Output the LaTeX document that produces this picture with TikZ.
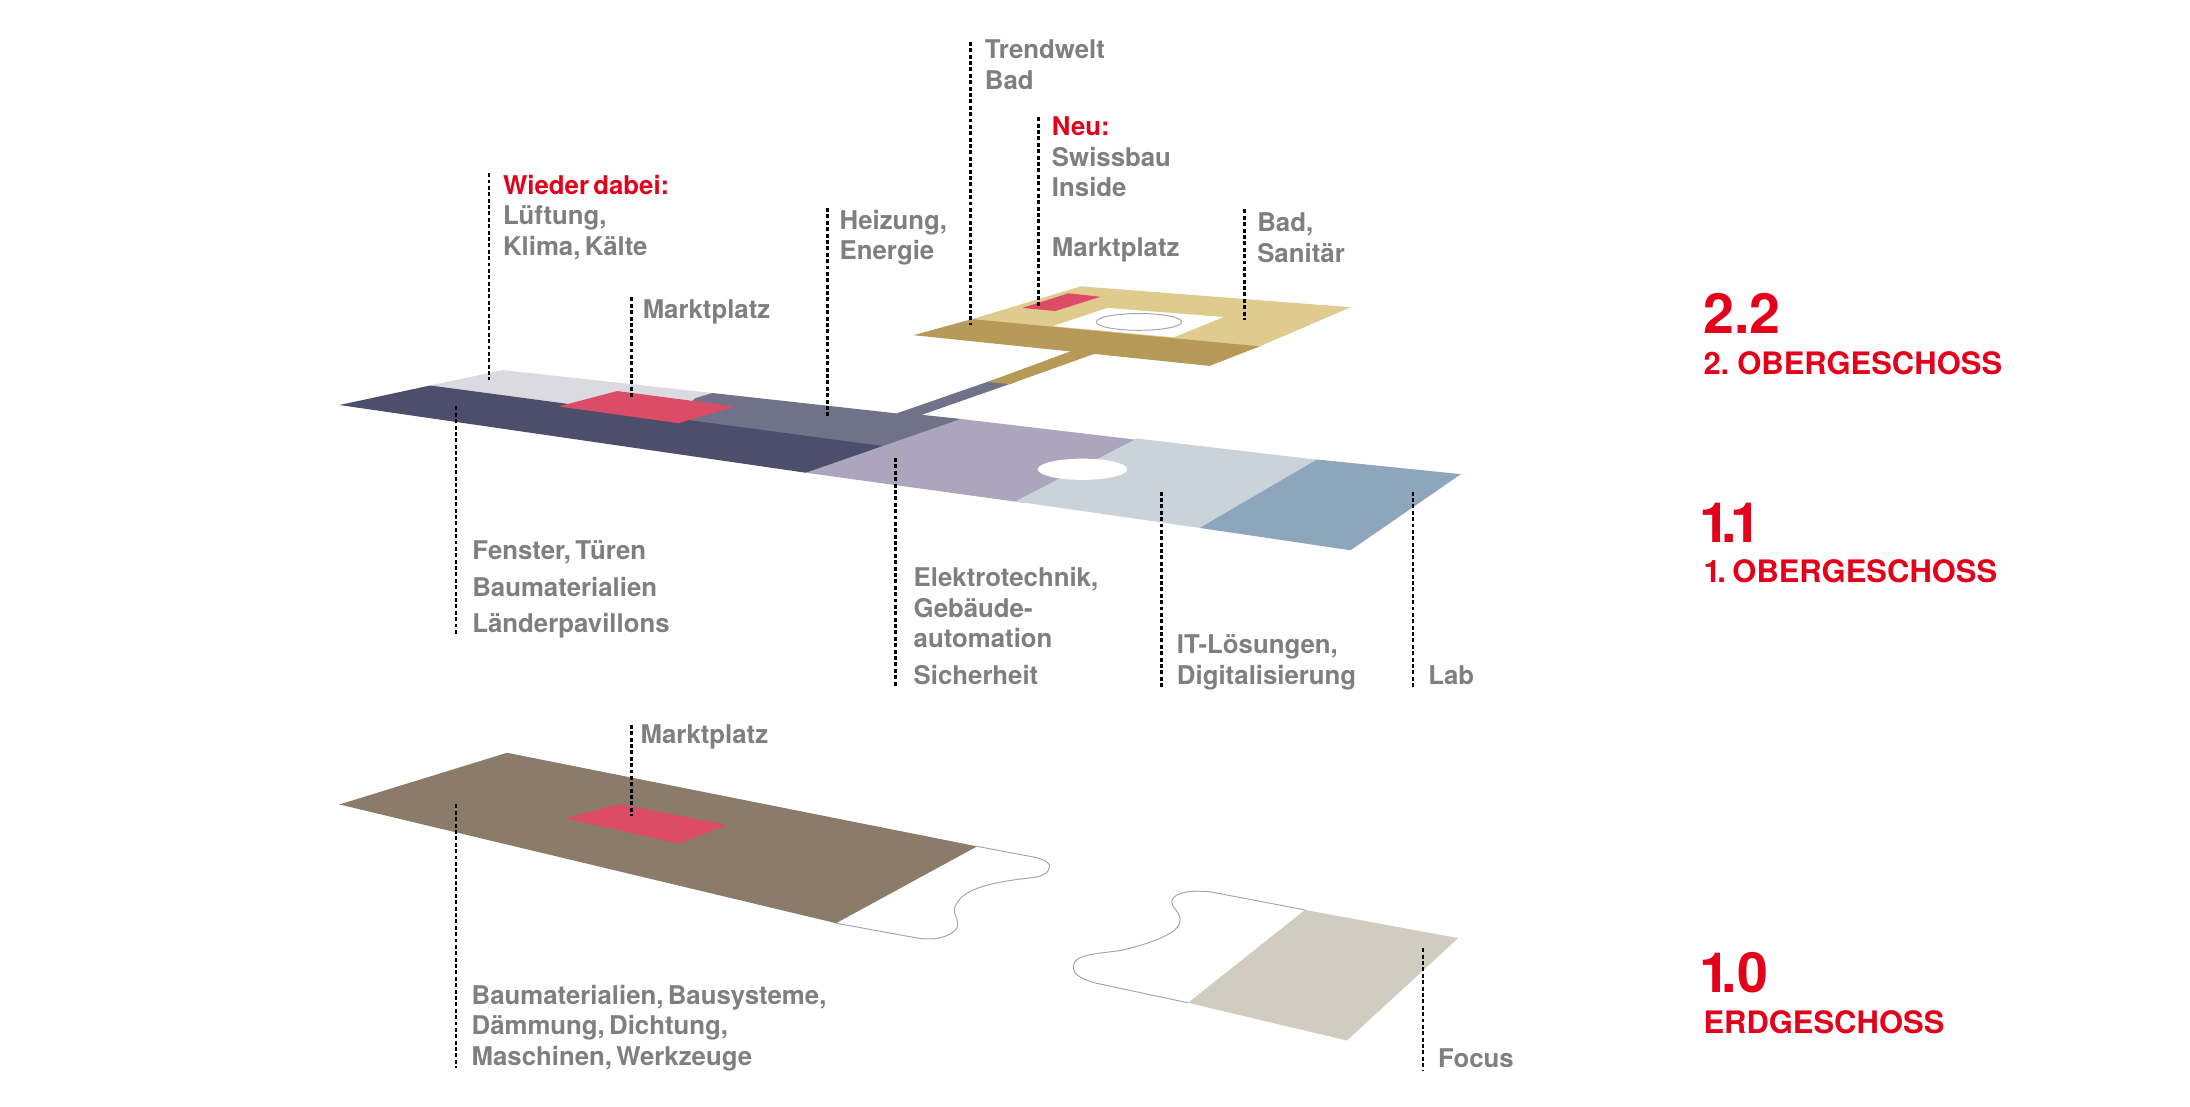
\documentclass[tikz,border=0pt]{standalone}
\usepackage{fontspec}
\setmainfont{TeX Gyre Heros}[WordSpace=0.6]
\usepackage{tikz}
\usetikzlibrary{positioning, calc}
\definecolor{navy}{HTML}{4C4E6C}
\definecolor{slate}{HTML}{707289}
\definecolor{mist}{HTML}{DADAE0}
\definecolor{lilac}{HTML}{ABA6BD}
\definecolor{pale}{HTML}{C9D3D9}
\definecolor{steel}{HTML}{8EA6BC}
\definecolor{golddark}{HTML}{B89A58}
\definecolor{goldlight}{HTML}{DFCB8E}
\definecolor{earth}{HTML}{8A7C69}
\definecolor{sand}{HTML}{D2CCC0}
\definecolor{market}{HTML}{DC4C66}
\definecolor{signal}{HTML}{E2001A}
\definecolor{labelgray}{HTML}{7F7F7F}

\begin{document}
\begin{tikzpicture}[
    x=0.01cm, y=-0.01cm,
    label/.style={font=\fontsize{5.25}{6.26}\selectfont\bfseries, text=labelgray, align=left, inner sep=0pt, anchor=base west},
    level/.style={font=\fontsize{11.3}{12}\selectfont\bfseries, text=signal, inner sep=0pt, anchor=base west},
    levelname/.style={font=\fontsize{6.3}{7}\selectfont\bfseries, text=signal, inner sep=0pt, anchor=base west},
    leader/.style={draw=black, line width=0.5pt, dash pattern=on 0.8pt off 0.5pt},
    outline/.style={draw=black!35, line width=0.2pt}
]
\useasboundingbox (0,0) rectangle (1568,792);

\fill[mist] (308,276) -- (360,265) -- (510,281.4) -- (505,287) -- (480,301) -- cycle;
\fill[slate] (510,281.4) -- (642,296) -- (712,271.7) -- (728,273.2) -- (660,297) -- (688,300) -- (690,305) -- (640,322) -- (620,323) -- (480,301) -- (498,285) -- cycle;
\fill[navy] (243,290) -- (308,276) -- (632,319.4) -- (640,321) -- (577,338.5) -- cycle;
\fill[lilac] (577,338.5) -- (688,300) -- (820,315.6) -- (733,360) -- cycle;
\fill[pale] (814,314) -- (950,330) -- (866,379) -- (727,359) -- cycle;
\fill[steel] (943,329) -- (1046,339.5) -- (967,394) -- (859,378) -- cycle;
\fill[white] (775,336) ellipse [x radius=32, y radius=7.6];
\fill[market] (400,291) -- (442,280) -- (526,291) -- (486,303) -- cycle;

\fill[golddark] (707,273.5) -- (768,251) -- (786,252.5) -- (723,275) -- cycle;
\fill[goldlight] (700,231) -- (696,228.5) -- (774,205) -- (967,220) -- (902,248) -- (895,250) -- cycle;
\fill[golddark] (654,240) -- (696,228.5) -- (902,248) -- (866,262) -- cycle;
\fill[white] (754,233.5) -- (793,220.5) -- (876,227) -- (840.5,241.5) -- cycle;
\draw[outline, fill=white] (815.5,230.5) ellipse [x radius=30.6, y radius=6];
\fill[market] (732,220.5) -- (765,210) -- (788,212.5) -- (755.5,222.7) -- cycle;

\fill[earth] (243,576) -- (363,539) -- (699.6,606) -- (598.6,661) -- cycle;
\fill[market] (404.6,586) -- (443,575.7) -- (520.5,590.6) -- (486,604) -- cycle;
\draw[outline] (699.6,606) -- (742,614) .. controls (749,616) and (752,618) .. (751.4,621) .. controls (751,625) and (746,627) .. (742,628) .. controls (725,630) and (708,632) .. (695,638) .. controls (684,644) and (682,651) .. (684,655) .. controls (686,660) and (687,664) .. (683,667) .. controls (675,673) and (664,673) .. (656,671.5) -- (598.6,661);
\fill[sand] (934.4,651.5) -- (1044,671.7) -- (964.4,745) -- (850.6,718) -- cycle;
\draw[outline] (934.4,651.5) -- (866.3,638.5) .. controls (855,637.5) and (841,638) .. (839,645) .. controls (838,650) and (845,652) .. (845,659) .. controls (845,668) and (825,675) .. (805,680) .. controls (790,683) and (769,682) .. (768.4,692) .. controls (768,699) and (778,702) .. (785,704) -- (850.6,718);

\node[label] (trendwelt) at (704.5,64) {Trendwelt\\Bad};
\node[label] (neu) at (752.5,141) {\textcolor{signal}{Neu:}\\Swissbau\\Inside};
\node[label] (marktobenrechts) at (752.5,184) {Marktplatz};
\node[label] (wieder) at (359.5,183) {\textcolor{signal}{Wieder dabei:}\\Lüftung,\\Klima, Kälte};
\node[label] (heizung) at (600.5,186) {Heizung,\\Energie};
\node[label] (bad) at (899.5,188) {Bad,\\Sanitär};
\node[label] (marktoben) at (459.5,228) {Marktplatz};
\node[label] (fenster) at (337.5,453) {Fenster, Türen\\[1.15pt]Baumaterialien\\[1.15pt]Länderpavillons};
\node[label] (elektro) at (653.5,490) {Elektrotechnik,\\Gebäude-\\automation\\[1.15pt]Sicherheit};
\node[label] (itloesung) at (842,490) {IT-Lösungen,\\Digitalisierung};
\node[label] (lab) at (1022,490) {Lab};
\node[label] (marktunten) at (458,532) {Marktplatz};
\node[label] (bausysteme) at (337,763) {Baumaterialien, Bausysteme,\\Dämmung, Dichtung,\\Maschinen, Werkzeuge};
\node[label] (focus) at (1029,764) {Focus};

\node[level] (zweizwei) at (1219,238.5) {2.2};
\node[levelname] (zweiname) at (1219,268) {2. OBERGESCHOSS};
\node[level] (einseins) at (1219,388.5) {\kern-0.9pt 1\kern-1.7pt.\kern-1.3pt 1};
\node[levelname] (einsname) at (1219,417) {1\kern-0.7pt.\kern-0.3pt{} OBERGESCHOSS};
\node[level] (einsnull) at (1219,710.5) {\kern-0.9pt 1\kern-1.7pt.0};
\node[levelname] (erdname) at (1219,740) {ERDGESCHOSS};

\coordinate (wiedertop) at (350,124);
\coordinate (wiederfoot) at (350,272);
\coordinate (marktobentop) at (452,213);
\coordinate (marktobenfoot) at (452,286);
\coordinate (heizungtop) at (592.5,149);
\coordinate (heizungfoot) at (592.5,298);
\coordinate (trendwelttop) at (695,30);
\coordinate (trendweltfoot) at (695,233);
\coordinate (neutop) at (743.5,84);
\coordinate (neufoot) at (743.5,220);
\coordinate (badtop) at (891,150);
\coordinate (badfoot) at (891,229);
\coordinate (fenstertop) at (326.5,291);
\coordinate (fensterfoot) at (326.5,455);
\coordinate (elektrotop) at (641,328);
\coordinate (elektrofoot) at (641,492);
\coordinate (ittop) at (831.5,352);
\coordinate (itfoot) at (831.5,492);
\coordinate (labtop) at (1011.5,352);
\coordinate (labfoot) at (1011.5,492);
\coordinate (marktuntentop) at (452,519);
\coordinate (marktuntenfoot) at (452,584);
\coordinate (bautop) at (326.5,576);
\coordinate (baufoot) at (326.5,765);
\coordinate (focustop) at (1019,679);
\coordinate (focusfoot) at (1019,766);

\draw[leader] (wiedertop) -- (wiederfoot);
\draw[leader] (marktobentop) -- (marktobenfoot);
\draw[leader] (heizungtop) -- (heizungfoot);
\draw[leader] (trendwelttop) -- (trendweltfoot);
\draw[leader] (neutop) -- (neufoot);
\draw[leader] (badtop) -- (badfoot);
\draw[leader] (fenstertop) -- (fensterfoot);
\draw[leader] (elektrotop) -- (elektrofoot);
\draw[leader] (ittop) -- (itfoot);
\draw[leader] (labtop) -- (labfoot);
\draw[leader] (marktuntentop) -- (marktuntenfoot);
\draw[leader] (bautop) -- (baufoot);
\draw[leader] (focustop) -- (focusfoot);
\end{tikzpicture}
\end{document}
